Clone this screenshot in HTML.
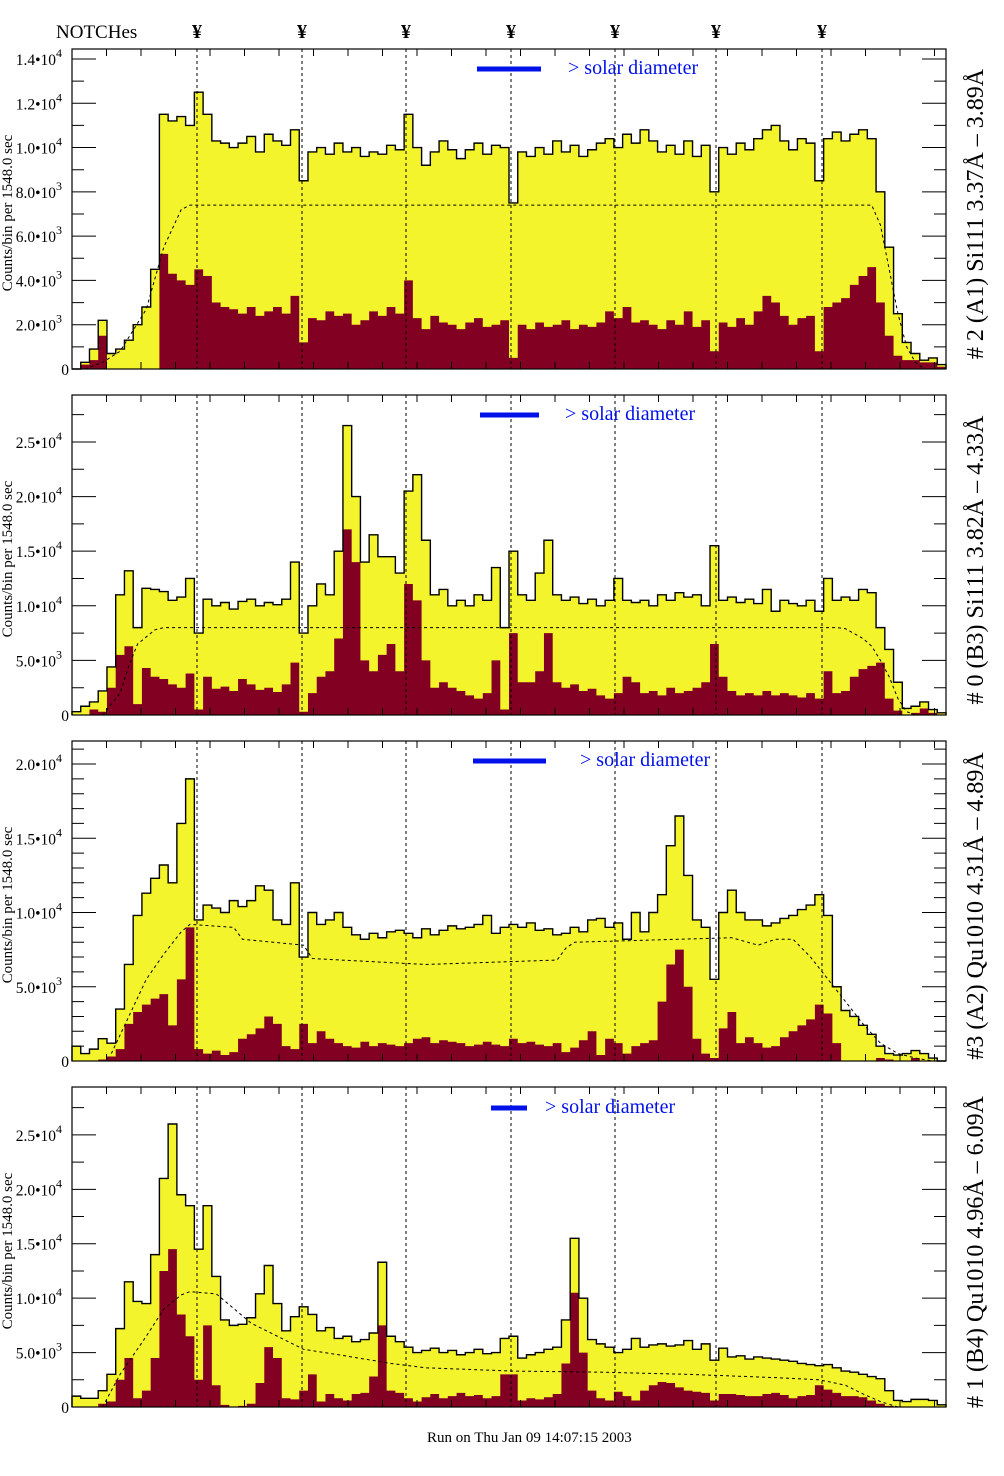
<!DOCTYPE html>
<html><head><meta charset="utf-8"><style>
html,body{margin:0;padding:0;background:#fff;}
svg{display:block;font-family:"Liberation Serif",serif;}
</style></head><body>
<svg id="chart" width="1004" height="1476" viewBox="0 0 1004 1476" xmlns="http://www.w3.org/2000/svg">
<text x="56" y="38" font-size="19">NOTCHes</text>
<text x="427" y="1442" font-size="15">Run on Thu Jan 09 14:07:15 2003</text>
</svg>
<script>
// ---------- data (values in thousands of counts per bin) ----------
const notchPositions = [197, 302, 406, 511, 615, 716, 822];
const panelTitles = ["# 2 (A1) Si111  3.37\u00C5 \u2013 3.89\u00C5","# 0 (B3) Si111  3.82\u00C5 \u2013 4.33\u00C5","#3 (A2) Qu1010  4.31\u00C5 \u2013 4.89\u00C5","# 1 (B4) Qu1010 4.96\u00C5 \u2013 6.09\u00C5"];
const p1Total = [0,0.3,0.9,2.2,0.7,0.9,1.3,2.0,2.8,4.5,11.5,11.2,11.4,11.0,12.5,11.5,10.3,10.2,10.0,10.2,10.5,9.8,10.6,10.3,10.1,10.8,8.5,9.8,10.0,9.7,10.2,9.8,10.0,9.6,9.8,9.7,10.1,9.9,11.5,10.0,9.2,9.8,10.3,9.9,9.5,9.9,10.2,9.7,10.1,10.0,7.5,9.8,9.6,10.0,9.7,10.3,9.8,10.1,9.6,9.9,10.2,10.4,10.0,10.6,10.2,10.8,10.3,9.8,10.1,9.7,10.3,9.6,10.1,8.0,10.0,9.7,10.2,9.9,10.4,10.8,11.0,10.3,9.9,10.4,10.2,8.5,10.4,10.7,10.3,10.6,10.8,10.4,8.0,5.5,2.5,1.2,0.7,0.4,0.5,0.2];
const p1Core = [0,0.2,0.4,1.5,0,0,0,0,0,0,5.2,4.3,4.0,3.8,4.5,4.2,3.0,2.8,2.7,2.5,2.8,2.4,2.6,2.8,2.5,3.3,1.2,2.3,2.2,2.6,2.4,2.5,2.0,2.2,2.6,2.4,2.8,2.5,4.0,2.3,1.8,2.4,2.1,2.0,1.8,2.1,2.3,1.9,2.0,2.2,0.5,2.0,1.8,2.1,1.9,2.0,2.2,1.8,2.0,1.9,2.1,2.6,2.3,2.8,2.1,2.2,2.0,1.8,2.2,2.0,2.6,1.9,2.2,0.8,2.1,1.9,2.3,2.0,2.6,3.3,3.0,2.4,2.0,2.3,2.4,0.8,2.8,3.0,3.2,3.8,4.2,4.6,3.0,1.5,0.6,0.4,0.4,0.3,0.3,0.1];
const p1ModelBins = [1,3,5,8,10,12,13,91,92,93,94,95,96,97];
const p1ModelVals = [0,0.3,0.8,2.7,5.5,7.2,7.4,7.4,6.5,4.5,2.5,1.0,0.3,0];
const p2Total = [0.3,0.8,1.2,2.2,4.4,11,13.2,8,11.6,11.5,11.3,10.5,10.8,12.5,7.5,10.6,10,10.3,9.7,10.4,10.6,10,10.3,10.1,10.6,14,7.5,10,12,11,15,26.5,20,14,16.5,14.5,14.5,13,20.5,22,16,11,11.5,10,10.5,10,11,10.5,13.5,8,15,11,10.5,13,16,11,10.5,10.8,10.2,10.6,10,10.5,12.5,10.5,10.3,10.5,10,11,10.5,11.2,10.8,11,10,15.5,10.5,10.8,10.3,10.6,10.2,11.5,9.5,10.5,10.2,10,10.5,9.5,12.5,10.5,10.8,10.5,11.5,11.2,8,6,3,0.6,0.8,1.2,0.5,0.2];
const p2Core = [0,0,0.5,0.3,2.5,5.5,6.3,1,4.3,3.5,3.3,2.8,2.5,3.8,0.5,3.5,2.4,2.6,2.2,3.3,2.8,2.3,2.5,2.1,2.8,4.8,0.3,2,3.5,4,7,17,14,5,4,5.5,6.5,4,12,10.5,5,2.5,3,2.5,2.2,1.8,1.5,2,5,0.5,7.5,3,3,4,7.5,3,2.5,2.8,2.2,2.4,1.8,1.5,2,3.5,3,2,2.2,1.8,2.5,2,2.2,2.5,3,6.5,3.5,2.2,1.8,2,1.8,2.2,1.8,2,1.8,1.6,2,1.5,4,2,2.2,3.5,4.2,4.5,4.8,1.5,0.4,0,0.2,0.6,0.2,0];
const p2ModelBins = [3,5,6,7,9,10,87,88,90,91,92,93,94,95,96];
const p2ModelVals = [0,2,4.5,6.5,7.8,8.0,8.0,7.9,7.0,6.3,5.0,3.5,1.5,0.3,0];
const p3Total = [1.0,0.5,0.8,1.5,1.2,3.5,6.5,9.8,11.3,12.3,13.2,12.0,16,19,9.5,10.5,10.3,10,10.8,10.4,10.8,11.8,11.5,9.5,9.2,12,7,10,9.2,9.5,10.0,9,8.5,8.2,8.6,8.3,8.7,8.8,8.6,8.3,8.9,8.5,8.8,9.1,8.9,9.0,9.2,9.8,8.6,9.0,9.2,9.0,9.3,8.8,8.9,8.5,8.6,9.0,8.7,9.5,9.6,9.0,9.3,8.2,10,8.7,10,11.2,14.5,16.5,12.5,9.5,9.0,5.5,10.0,11.5,10,9.5,9.5,9.1,9.3,9.6,9.8,10.2,10.5,11.2,9.8,5,3.4,3.0,2.4,1.8,1.0,0.5,0.4,0.5,0.7,0.5,0.2,0];
const p3Core = [0,0,0,0.1,0.3,0.8,2.5,3.3,3.8,4.2,4.5,2.4,5.5,9,0.8,0.5,0.7,0.4,0.6,1.5,1.8,2.2,3,2.5,1,0.8,2.5,1.2,2,1.5,1.2,1.0,0.9,1.3,1.0,1.2,1.1,1.0,1.2,1.5,1.6,1.2,1.4,1.3,1.2,1.0,1.1,1.3,1.1,1.0,1.5,1.2,1.3,1.1,1.0,1.2,0.6,0.9,1.4,2.0,0.4,1.5,1.2,0.5,1.0,1.2,1.4,4,6.5,7.5,5,1.5,0.5,0.2,2.2,3.3,1.2,1.6,1.2,0.9,1.0,1.6,2.0,2.4,2.8,3.8,3.2,1.2,0,0,0,0,0.2,0.1,0,0,0.2,0,0,0];
const p3ModelBins = [4,6,8,10,12,13,18,19,26,27,40,55,56,57,75,78,80,82,83,84,86,88,90,92,94,96,98];
const p3ModelVals = [0.5,3,5.5,7.2,8.7,9.2,9.0,8.2,7.8,6.9,6.5,6.8,7.6,8.0,8.3,7.8,8.2,8.2,7.6,7.0,5.5,4,2.5,1.2,0.5,0.2,0];
const p4Total = [1.0,0.8,0.8,1.5,3.0,7.2,11.5,9.7,9.5,14,21,26,19.5,18.5,14.5,18.5,12,8,7.5,7.6,8.2,10.4,13,9.5,7.0,8.3,9.2,8.5,7.0,7.3,6.3,6.5,6.0,6.2,6.8,13.3,6.5,6.0,5.5,5.0,5.2,5.4,5.0,5.2,4.8,5.0,5.3,4.9,5.0,6.3,6.5,4.5,4.8,5.0,5.3,5.5,8,15.5,10,6.2,5.8,5.5,5.0,5.3,6.3,5.5,5.7,5.8,5.6,5.7,6.1,5.3,5.8,4.3,5.4,4.6,4.7,4.4,4.6,4.5,4.4,4.3,4.2,4.0,3.9,3.8,3.9,3.6,3.3,3.2,3.0,2.8,2.6,1.5,0.6,0.5,0.7,0.7,0.6,0.2];
const p4Core = [0,0,0,0.3,0.5,2.5,4.5,0.8,1.5,4.5,12.5,14.5,8.5,6.5,2.5,7.5,2,0.2,0,0.1,0.3,2.2,5.5,4.5,0.8,0.7,1.5,3.0,0.5,1.2,0.8,0.6,1.2,1.3,2.8,7.5,1.5,1.3,0.8,0.5,0.9,1.2,0.8,1.0,1.3,1.0,1.1,0.8,1.0,3,3,0.6,0.8,0.7,0.9,1.2,4,10.5,5,1.5,0.8,0.6,1.4,1.0,0.6,1.5,2.0,2.3,2.2,1.8,1.5,1.4,1.3,0.6,1.2,1.2,1.1,1.0,1.0,1.2,1.3,1.1,0.8,1.0,1.1,2.0,1.6,1.3,1.0,1.0,0.9,0.6,0.3,0.1,0,0,0,0,0,0];
const p4ModelBins = [3,5,8,10,12,13,16,20,26,30,36,40,50,60,70,80,85,88,90,92,94];
const p4ModelVals = [0,3,6.5,9,10.3,10.6,10.4,7.7,5.3,4.8,4.0,3.6,3.3,3.2,3.0,2.7,2.5,2.0,1.2,0.5,0];
const p1Ticks = [0,2,4,6,8,10,12,14];
const p1TickLabels = ["0","2.0\u202210|3","4.0\u202210|3","6.0\u202210|3","8.0\u202210|3","1.0\u202210|4","1.2\u202210|4","1.4\u202210|4"];
const p2Ticks = [0,5,10,15,20,25];
const p2TickLabels = ["0","5.0\u202210|3","1.0\u202210|4","1.5\u202210|4","2.0\u202210|4","2.5\u202210|4"];
const p3Ticks = [0,5,10,15,20];
const p3TickLabels = ["0","5.0\u202210|3","1.0\u202210|4","1.5\u202210|4","2.0\u202210|4"];
const p4Ticks = p2Ticks;
const p4TickLabels = p2TickLabels;

const NS = "http://www.w3.org/2000/svg";
const svg = document.getElementById('chart');
function mk(tag, attrs, parent){ const e=document.createElementNS(NS,tag); for(const k in attrs) e.setAttribute(k,attrs[k]); (parent||svg).appendChild(e); return e; }

const X0 = 72, X1 = 946;
const panels = [
  {top:49,bottom:369,max:14.45,minor:1,total:p1Total,core:p1Core,mb:p1ModelBins,mv:p1ModelVals,ticks:p1Ticks,labels:p1TickLabels,bar:[477,541,69],txt:568},
  {top:395,bottom:715,max:29.3,minor:2.5,total:p2Total,core:p2Core,mb:p2ModelBins,mv:p2ModelVals,ticks:p2Ticks,labels:p2TickLabels,bar:[480,539,415],txt:565},
  {top:741,bottom:1061,max:21.55,minor:1,total:p3Total,core:p3Core,mb:p3ModelBins,mv:p3ModelVals,ticks:p3Ticks,labels:p3TickLabels,bar:[473,546,761],txt:580},
  {top:1087,bottom:1407,max:29.4,minor:2.5,total:p4Total,core:p4Core,mb:p4ModelBins,mv:p4ModelVals,ticks:p4Ticks,labels:p4TickLabels,bar:[491,527,1108],txt:545}
];

notchPositions.forEach(function(nx){
  const t = mk('text',{x:nx,y:38,'font-size':20,'font-weight':'bold','text-anchor':'middle'});
  
  
  t.textContent = '\u00A5';
});

panels.forEach(function(p, pi){
  const g = mk('g',{});
  
  
  const n = p.total.length;
  const bw = (X1-X0)/n;
  const xs = function(i){ return X0 + i*bw; };
  const ys = function(v){ return p.bottom - Math.min(v,p.max)/p.max*(p.bottom-p.top); };
  function stepPath(arr, close){
    let d = 'M'+X0+','+p.bottom;
    for(let i=0;i<n;i++){ d += ' L'+xs(i).toFixed(2)+','+ys(arr[i]).toFixed(2)+' L'+xs(i+1).toFixed(2)+','+ys(arr[i]).toFixed(2); }
    d += ' L'+X1+','+p.bottom;
    if(close) d+=' Z';
    return d;
  }
  const tf = mk('path',{d:stepPath(p.total,true),fill:'#f4f42c',stroke:'none'},g);
  
  
  const cf = mk('path',{d:stepPath(p.core,true),fill:'#820022',stroke:'none'},g);
  
  
  const to = mk('path',{d:stepPath(p.total,false),fill:'none',stroke:'#000','stroke-width':1.4},g);
  
  
  let md='';
  p.mb.forEach(function(b,k){ md += (k?' L':'M')+(xs(b)+bw/2).toFixed(2)+','+ys(p.mv[k]).toFixed(2); });
  const mc = mk('path',{d:md,fill:'none',stroke:'#000','stroke-width':1,'stroke-dasharray':'3,3'},g);
  
  
  notchPositions.forEach(function(nx){
    const l = mk('line',{x1:nx,x2:nx,y1:p.top,y2:p.bottom,stroke:'#000','stroke-width':1,'stroke-dasharray':'3,3'},g);
    
    
  });
  const fr = mk('rect',{x:X0,y:p.top,width:X1-X0,height:p.bottom-p.top,fill:'none',stroke:'#000','stroke-width':1.2},g);
  
  
  for(let tx=X0+34.5; tx<X1; tx+=34.5){
    const L = mk('path',{d:'M'+tx+','+p.top+' v7 M'+tx+','+p.bottom+' v-7',stroke:'#000','stroke-width':1},g);
    
    
  }
  for(let v=0; v<=p.max; v+=p.minor){
    const major = p.ticks.indexOf(Math.round(v*10)/10)>=0;
    const len = major?24:12;
    const y = ys(v);
    const L = mk('path',{d:'M'+X0+','+y+' h'+len+' M'+X1+','+y+' h-'+len,stroke:'#000','stroke-width':1},g);
    
    
  }
  p.ticks.forEach(function(v,k){
    const parts = p.labels[k].split('|');
    const t = mk('text',{x:69,y:ys(v)+6,'font-size':15.5,'text-anchor':'end'},g);
    
    
    if(parts.length===1){ t.textContent = parts[0]; }
    else {
      t.setAttribute('x',62);
      t.textContent = parts[0];
      const s = mk('tspan',{dy:-8,'font-size':12},t);
      s.textContent = parts[1];
    }
  });
  const yt = mk('text',{transform:'translate(12,'+((p.top+p.bottom)/2+4)+') rotate(-90)','font-size':15,'text-anchor':'middle'},g);
  
  
  yt.textContent = 'Counts/bin per   1548.0 sec';
  const lb = mk('rect',{x:p.bar[0],y:p.bar[2]-2.5,width:p.bar[1]-p.bar[0],height:5,fill:'#0010e8'},g);
  
  
  const lt = mk('text',{x:p.txt,y:p.bar[2]+5,'font-size':20,fill:'#0010e8'},g);
  
  
  lt.textContent = '> solar diameter';
  const pt = mk('text',{transform:'translate(983,'+((p.top+p.bottom)/2+5)+') rotate(-90)','font-size':24,'text-anchor':'middle'},g);
  
  
  pt.textContent = panelTitles[pi];
});
</script>
</body></html>
